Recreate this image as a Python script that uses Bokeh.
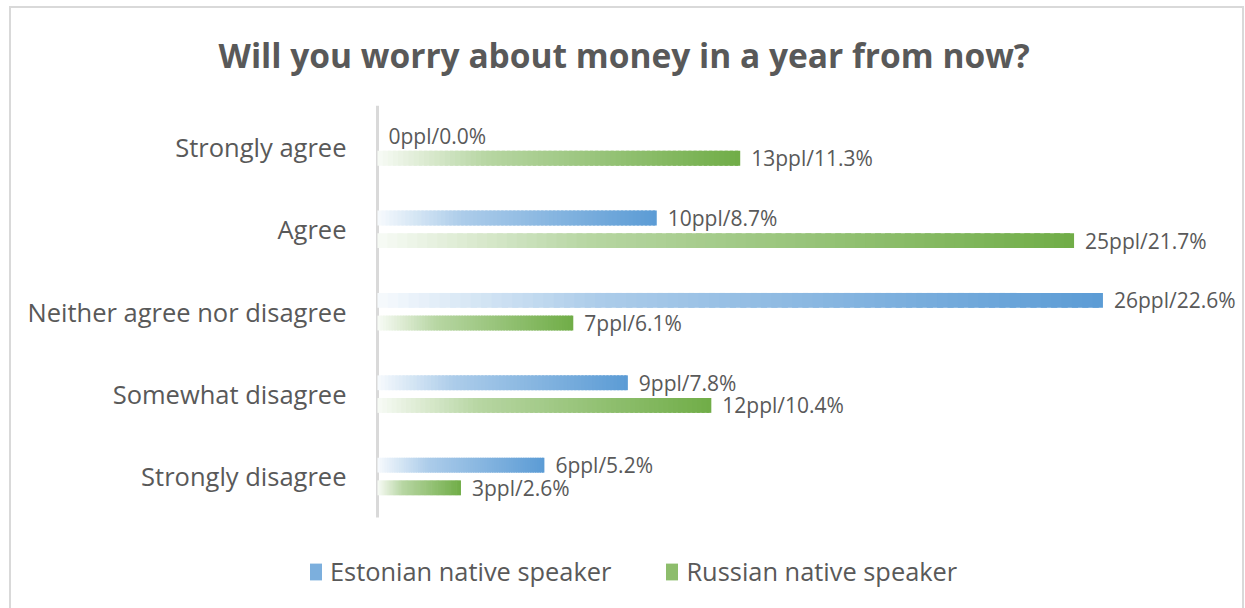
from bokeh.plotting import figure
from bokeh.models import ColumnDataSource, Range1d, Legend, LegendItem
from bokeh.core.properties import value
from bokeh.embed import file_html
from bokeh.resources import INLINE

# survey answers, top to bottom
categories = ["Strongly agree", "Agree", "Neither agree nor disagree",
              "Somewhat disagree", "Strongly disagree"]
estonian_people = [0, 10, 26, 9, 6]
estonian_pct = [0.0, 8.7, 22.6, 7.8, 5.2]
russian_people = [13, 25, 7, 12, 3]
russian_pct = [11.3, 21.7, 6.1, 10.4, 2.6]
series_names = ["Estonian native speaker", "Russian native speaker"]
series_colors = ["#5B9BD5", "#70AD47"]

TEXT = "#595959"
FONT = "Open Sans"
LINE = "#d9d9d9"

# one slot per answer, first answer at the top
slots = [len(categories) - 0.5 - i for i in range(len(categories))]


def ramp(t):
    # share of full colour along a bar (pale at the base, solid at the tip)
    pts = [(0.0, 0.05), (0.2, 0.35), (0.3, 0.5), (1.0, 1.0)]
    for (t0, a0), (t1, a1) in zip(pts, pts[1:]):
        if t <= t1:
            return a0 + (a1 - a0) * (t - t0) / (t1 - t0)
    return 1.0


def tint(hex_color, a):
    r, g, b = (int(hex_color[i:i + 2], 16) for i in (1, 3, 5))
    mix = lambda c: round(255 + (c - 255) * a)
    return "#%02x%02x%02x" % (mix(r), mix(g), mix(b))


def gradient_source(vals, shift, color, n=70):
    y, left, right, fill = [], [], [], []
    for s, v in zip(slots, vals):
        if v <= 0:
            continue
        step = v / n
        for i in range(n):
            y.append(s + shift)
            left.append(i * step)
            right.append(min(v, (i + 1.6) * step))
            fill.append(tint(color, ramp((i + 0.5) / n)))
    return ColumnDataSource(dict(y=y, left=left, right=right, fill=fill))


p = figure(width=1245, height=608, frame_width=1228, frame_height=495,
           output_backend="svg", toolbar_location=None,
           x_range=Range1d(-11.37, 26.885),
           y_range=Range1d(len(categories) - 495 / 82.4, len(categories)),
           min_border_left=12, min_border_right=5,
           min_border_top=105, min_border_bottom=8,
           outline_line_color=None,
           border_fill_color=None, background_fill_color=None)
# thin light frame round the chart (left, top, right)
bar = "linear-gradient(%s, %s)" % (LINE, LINE)
p.styles = {"background": ", ".join([
    bar + " 9px 6px / 2px 610px no-repeat",
    bar + " 1242px 6px / 2px 610px no-repeat",
    bar + " 9px 6px / 1235px 2px no-repeat",
])}

p.title.text = "Will you worry about money in a year from now?"
p.title.text_font = FONT
p.title.text_font_size = "33.5px"
p.title.text_font_style = "bold"
p.title.text_color = TEXT
p.title.align = "left"
p.title.offset = 206
p.title.standoff = 55

p.xaxis.visible = False
p.yaxis.visible = False
p.xgrid.visible = False
p.ygrid.visible = False

# category axis: line at zero and the answer names to its left
p.segment(x0=0, y0=0, x1=0, y1=len(categories), line_color=LINE, line_width=3)
p.text(x=[0] * len(categories), y=slots, text=categories, x_offset=-31,
       text_align="right", text_baseline="middle",
       text_font=value(FONT), text_font_size="25.5px", text_color=TEXT)

shifts = [0.135, -0.14]
series = [(estonian_people, estonian_pct), (russian_people, russian_pct)]
legend_items = []
for (people, pct), shift, color, name in zip(series, shifts, series_colors, series_names):
    src = gradient_source(pct, shift, color)
    p.hbar(y="y", left="left", right="right", height=0.18,
           fill_color="fill", line_color=None, source=src)

    labels = ColumnDataSource(dict(
        x=pct, y=[s + shift for s in slots],
        text=["%dppl/%.1f%%" % (n, v) for n, v in zip(people, pct)]))
    p.text(x="x", y="y", text="text", source=labels, x_offset=11,
           text_baseline="middle",
           text_font=value(FONT), text_font_size="21px", text_color=TEXT)

    key = p.hbar(y=[slots[0]], left=[0], right=[0], height=0.1,
                 fill_color=tint(color, 0.8), line_color=None)
    legend_items.append(LegendItem(label=name, renderers=[key]))

legend = Legend(items=legend_items, orientation="horizontal",
                location=(296, 12),
                label_text_font=FONT, label_text_font_size="25.4px",
                label_text_color=TEXT, glyph_width=15, glyph_height=21,
                label_standoff=7, spacing=53, padding=0, margin=0,
                border_line_color=None, background_fill_color=None)
p.add_layout(legend, "center")

open("out.html", "w").write(file_html(p, INLINE))
